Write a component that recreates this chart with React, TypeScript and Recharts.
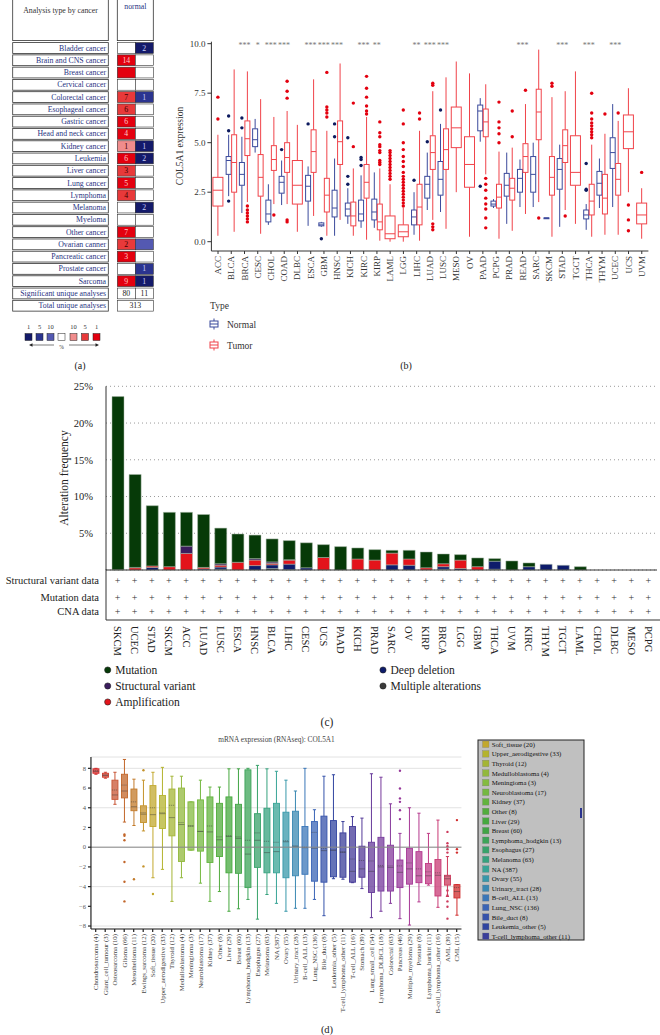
import React from 'react';
import { BarChart, Bar, XAxis, YAxis, CartesianGrid, ReferenceLine } from 'recharts';

const SERIF = '"Liberation Serif", "DejaVu Serif", serif';

// ---------- (a) Oncomine summary ----------
const oncoCancers = [
  'Bladder cancer', 'Brain and CNS cancer', 'Breast cancer', 'Cervical cancer', 'Colorectal cancer',
  'Esophageal cancer', 'Gastric cancer', 'Head and neck cancer', 'Kidney cancer', 'Leukemia',
  'Liver cancer', 'Lung cancer', 'Lymphoma', 'Melanoma', 'Myeloma', 'Other cancer',
  'Ovarian canner', 'Pancreatic cancer', 'Prostate cancer', 'Sarcoma',
];
// number of analyses (null = no cell, '' = coloured cell without number)
const oncoOver = [null, 14, '', null, 7, 6, 6, 4, 1, 6, 3, 5, 4, null, null, 7, 2, 3, null, 9];
const oncoOverRank = [0, 1, 1, 0, 5, 5, 1, 1, 10, 1, 5, 1, 5, 0, 0, 1, 5, 1, 0, 1];
const oncoUnder = [2, null, null, null, 1, null, null, null, 1, 2, null, null, null, 2, null, null, '', null, 1, 1];
const oncoUnderRank = [1, 0, 0, 0, 5, 0, 0, 0, 1, 1, 0, 0, 0, 1, 0, 0, 10, 0, 5, 1];
const oncoSignificant = [80, 11];
const oncoTotal = 313;
const oncoLegendRanks = [1, 5, 10];

// ---------- (b) COL5A1 expression, normal vs tumor ----------
const bCancers = ['ACC', 'BLCA', 'BRCA', 'CESC', 'CHOL', 'COAD', 'DLBC', 'ESCA', 'GBM', 'HNSC', 'KICH', 'KIRC',
  'KIRP', 'LAML', 'LGG', 'LIHC', 'LUAD', 'LUSC', 'MESO', 'OV', 'PAAD', 'PCPG', 'PRAD', 'READ', 'SARC', 'SKCM',
  'STAD', 'TGCT', 'THCA', 'THYM', 'UCEC', 'UCS', 'UVM'];
// [low whisker, q1, median, q3, high whisker]
const bTumor = [
  [0.3, 1.8, 2.6, 3.25, 5.4], [0.5, 2.5, 4.0, 5.4, 8.7], [2.0, 4.35, 5.2, 6.1, 8.6], [0.4, 2.3, 3.25, 4.4, 7.2],
  [1.9, 3.6, 4.15, 4.85, 6.3], [1.9, 3.5, 4.25, 5.0, 6.6], [0.5, 1.9, 2.85, 4.1, 5.9], [1.3, 3.5, 4.55, 5.65, 8.2],
  [0.3, 1.5, 2.35, 3.2, 5.6], [1.1, 3.9, 5.05, 6.1, 9.0], [0.3, 0.8, 1.3, 2.0, 3.7], [0.1, 2.2, 3.0, 3.9, 6.3],
  [0.05, 0.6, 1.0, 1.9, 3.7], [0.0, 0.15, 0.4, 1.3, 2.9], [0.0, 0.25, 0.5, 0.85, 1.7], [0.05, 0.85, 1.75, 2.9, 5.6],
  [1.1, 3.65, 4.5, 5.35, 7.6], [0.65, 3.65, 4.65, 5.7, 8.3], [2.5, 4.75, 5.75, 6.8, 9.1], [0.25, 2.75, 3.9, 5.3, 8.5],
  [3.4, 5.3, 6.05, 6.7, 7.95], [0.15, 1.7, 2.25, 2.9, 4.55], [0.55, 2.1, 2.7, 3.2, 4.75], [1.4, 3.5, 4.3, 4.95, 6.95],
  [2.0, 5.15, 6.55, 7.7, 9.7], [0.25, 2.35, 3.25, 4.3, 7.3], [1.6, 4.0, 4.85, 5.65, 7.6], [0.9, 2.85, 3.5, 5.35, 8.6],
  [0.25, 1.35, 2.05, 2.9, 4.9], [0.35, 1.4, 2.2, 3.4, 5.45], [0.35, 2.35, 3.15, 3.95, 6.1], [2.5, 4.7, 5.55, 6.4, 7.75],
  [0.15, 0.9, 1.35, 1.95, 2.7],
];
const bTumorOut = [
  [6.2, 7.3], [], [1.0, 1.15, 1.3, 1.45, 1.6, 1.8], [], [1.35], [1.0, 1.1, 7.25, 7.6, 8.1], [], [],
  [6.3, 6.5, 6.65, 6.8, 8.55], [], [4.8, 7.0], [6.45, 6.6, 6.85, 7.3, 7.75, 8.35],
  [3.9, 4.0, 4.1, 4.5, 4.6, 4.8, 4.9, 5.3, 5.5, 6.05],
  [3.15, 3.3, 3.45, 3.6, 3.75, 3.9, 4.05, 4.2, 4.35, 4.5, 4.6],
  [1.8, 1.95, 2.1, 2.25, 2.4, 2.55, 2.7, 2.85, 3.0, 3.15, 3.3, 3.5, 3.8, 4.05, 4.3, 4.65, 5.0, 5.95, 6.65],
  [6.2, 6.5], [0.6, 0.75, 0.9, 7.9, 8.0], [], [], [], [0.7, 1.2, 1.65, 1.9, 2.2, 2.6, 2.9, 3.2],
  [5.0, 5.45, 5.75, 6.05, 7.05], [5.3, 6.6], [7.65], [1.2], [7.85, 8.0], [1.3], [],
  [5.25, 5.4, 5.55, 5.7, 5.85, 6.0, 6.2, 6.5, 7.5], [6.45], [6.5], [0.55, 1.1, 1.85], [3.5],
];
const bNormal = [
  null, [2.3, 3.4, 4.1, 4.3, 5.4], [1.45, 2.85, 3.4, 4.0, 5.3], [4.5, 4.8, 5.15, 5.7, 6.2], [0.85, 1.0, 1.4, 2.1, 2.9],
  [1.85, 2.45, 3.0, 3.3, 4.1], null, [0.8, 2.05, 2.8, 3.35, 3.8], [0.75, 0.8, 0.85, 0.95, 1.0], [0.3, 1.25, 1.7, 2.6, 4.2],
  [0.9, 1.3, 1.65, 1.95, 2.7], [0.7, 1.05, 1.4, 2.1, 3.35], [0.7, 1.1, 1.5, 2.15, 3.5], null, null,
  [0.35, 0.85, 1.25, 1.6, 2.5], [1.6, 2.2, 2.9, 3.3, 4.5], [1.5, 2.35, 3.15, 4.05, 5.95], null, null,
  [5.05, 5.6, 6.6, 6.9, 7.25], [1.7, 1.8, 1.9, 2.05, 2.15], [0.9, 2.3, 2.85, 3.45, 4.5], [1.75, 2.5, 3.2, 3.65, 4.15],
  [1.75, 2.5, 3.4, 4.3, 5.0], [1.2, 1.2, 1.2, 1.2, 1.2], [0.75, 2.65, 3.65, 4.2, 4.9], null,
  [0.6, 1.15, 1.35, 1.6, 1.9], [1.7, 2.35, 2.95, 3.55, 4.2], [1.75, 3.7, 4.5, 5.25, 6.95], null, null,
];
const bNormalOut = [
  [], [2.05, 5.6, 6.35], [5.75, 6.25], [], [], [4.65], [], [5.95], [0.15], [5.3, 5.95], [2.9, 3.3, 5.25],
  [3.85, 4.15, 4.25], [], [], [], [3.1], [5.05], [6.65], [], [], [2.8], [], [], [], [], [], [], [],
  [2.6, 2.65, 3.95], [], [], [], [],
];
const bSignif = ['', '', '***', '*', '***', '***', '', '***', '***', '***', '', '***', '**', '', '', '**', '***',
  '***', '', '', '', '', '', '***', '', '', '***', '', '***', '', '***', '', ''];
const bTicks = [0, 2.5, 5, 7.5, 10];

// ---------- (c) alteration frequency ----------
const altCancers = ['SKCM', 'UCEC', 'STAD', 'SKCM', 'ACC', 'LUAD', 'LUSC', 'ESCA', 'HNSC', 'BLCA', 'LIHC', 'CESC',
  'UCS', 'PAAD', 'KICH', 'PRAD', 'SARC', 'OV', 'KIRP', 'BRCA', 'LGG', 'GBM', 'THCA', 'UVM', 'KIRC', 'THYM', 'TGCT',
  'LAML', 'CHOL', 'DLBC', 'MESO', 'PCPG'];
const altMultiple = [0, 0, 0, 0, 0, 0, 0.1, 0, 0, 0.2, 0.05, 0, 0, 0, 0, 0, 0, 0, 0, 0.1, 0, 0, 0.1, 0, 0, 0, 0, 0, 0, 0, 0, 0];
const altDeletion = [0, 0, 0.35, 0, 0, 0.15, 0.3, 0, 0.6, 0.5, 0.75, 0.3, 0, 0, 0, 0, 0.7, 0.65, 0, 0.35, 0.2, 0, 1.1, 0,
  0.45, 0.77, 0.64, 0, 0, 0, 0, 0];
const altAmplification = [0.05, 0.3, 0.2, 0.45, 2.25, 0.2, 0.25, 1.05, 0.75, 0.2, 0.55, 0, 1.7, 0, 1.5, 1.35, 1.6, 0.85,
  0.3, 0.4, 1.15, 0.45, 0, 0, 0, 0, 0, 0, 0, 0, 0, 0];
const altStructural = [0, 0.05, 0, 0, 1.0, 0, 0.2, 0, 0.2, 0.2, 0.05, 0, 0, 0, 0, 0, 0, 0, 0, 0, 0, 0, 0, 0, 0, 0, 0, 0,
  0, 0, 0, 0];
const altMutation = [23.55, 12.65, 8.2, 7.4, 4.6, 7.2, 4.85, 3.85, 3.2, 3.13, 2.6, 3.4, 1.75, 3.18, 1.5, 1.42, 0.38, 1.18,
  2.15, 1.33, 0.74, 1.19, 0.35, 1.23, 0.51, 0, 0, 0.45, 0, 0, 0, 0];
const altTicks = [5, 10, 15, 20, 25];
const altRowLabels = ['Structural variant data', 'Mutation data', 'CNA data'];

// ---------- (d) CCLE mRNA expression ----------
const cellLines = ['Chondrosarcoma (4)', 'Giant_cell_tumour (3)', 'Osteosarcoma (10)', 'Glioma (66)', 'Mesothelioma (11)',
  'Ewings_sarcoma (12)', 'Soft_tissue (20)', 'Upper_aerodigestive (33)', 'Thyroid (12)', 'Medulloblastoma (4)',
  'Meningioma (3)', 'Neuroblastoma (17)', 'Kidney (37)', 'Other (8)', 'Liver (29)', 'Breast (60)',
  'Lymphoma_hodgkin (13)', 'Esophagus (27)', 'Melanoma (63)', 'NA (387)', 'Ovary (55)', 'Urinary_tract (28)',
  'B-cell_ALL (13)', 'Lung_NSC (136)', 'Bile_duct (8)', 'Leukemia_other (5)', 'T-cell_lymphoma_other (11)',
  'T-cell_ALL (16)', 'Stomach (39)', 'Lung_small_cell (54)', 'Lymphoma_DLBCL (18)', 'Colorectal (63)',
  'Pancreas (46)', 'Multiple_myeloma (29)', 'Prostate (8)', 'Lymphoma_burkitt (11)', 'B-cell_lymphoma_other (16)',
  'AML (39)', 'CML (15)'];
// [low whisker, q1, median, mean, q3, high whisker]
const cellStats = [
  [7.4, 7.5, 7.7, 7.75, 7.95, 8.0], [7.0, 7.1, 7.3, 7.3, 7.5, 7.6], [4.35, 4.85, 5.3, 5.8, 6.8, 7.6],
  [2.55, 5.0, 5.7, 6.3, 7.4, 8.9], [2.2, 3.7, 4.1, 4.6, 5.9, 6.9], [1.65, 2.5, 3.35, 3.5, 4.2, 6.8],
  [-3.1, 2.1, 3.3, 4.0, 6.25, 7.6], [-2.25, 1.9, 3.4, 3.5, 5.25, 8.1], [-5.5, 1.15, 3.0, 4.25, 5.9, 7.2],
  [-3.1, -1.45, 2.3, 2.5, 6.0, 7.2], [-0.3, -0.3, 2.15, 2.15, 4.6, 4.6], [-3.65, -0.4, 1.6, 1.6, 4.8, 6.8],
  [-5.5, -1.55, 1.55, 2.15, 5.1, 6.1], [-4.5, -0.95, 0.75, 1.05, 4.45, 6.1], [-6.5, -2.6, 1.1, 1.15, 5.1, 7.95],
  [-6.25, -2.65, 0.9, 1.05, 4.35, 7.95], [-5.3, -4.1, -0.7, 0.7, 7.85, 8.0], [-7.3, -2.05, 0.7, 1.45, 3.4, 8.3],
  [-4.8, -2.6, -0.55, 0.6, 3.95, 7.95], [-5.7, -2.6, -0.45, 0.5, 4.45, 7.7], [-6.5, -3.1, 0.55, 0.65, 3.55, 6.8],
  [-6.2, -2.9, 0.05, 0.15, 3.65, 5.7], [-6.2, -2.75, -0.05, 0.0, 2.1, 8.0], [-5.3, -3.45, -0.1, 1.5, 2.6, 3.8],
  [-6.95, -3.55, -0.35, -0.15, 3.15, 7.2], [-3.2, -3.0, -0.3, -0.3, 2.7, 7.35], [-3.25, -3.05, -0.5, -0.5, 1.45, 2.6],
  [-3.6, -3.55, -2.45, -1.2, 2.1, 3.1], [-4.2, -3.05, -2.2, -1.35, 0.1, 2.95], [-7.15, -4.6, -2.45, -1.4, 0.5, 7.45],
  [-6.5, -4.45, -2.0, -1.85, 1.0, 7.1], [-5.7, -4.45, -2.05, -1.9, 0.2, 4.4], [-7.25, -4.1, -2.55, -1.9, -1.3, 1.4],
  [-7.9, -3.75, -2.2, -1.6, -0.12, 4.0], [-5.55, -3.6, -2.9, -2.2, -0.45, 3.45], [-3.85, -3.7, -2.9, -2.5, -1.65, 1.4],
  [-6.1, -4.95, -2.85, -2.6, -1.25, 2.75], [-5.0, -3.85, -3.2, -2.95, -2.85, -0.95], [-6.9, -5.15, -4.5, -4.1, -3.8, -3.8],
];
const cellOutliers = [
  [], [], [], [1.3, 1.15, 0.7, -1.5, -3.5, -5.5], [-3.25], [7.8, -1.95], [-4.75], [], [], [], [], [], [], [], [], [],
  [], [], [], [], [], [], [], [], [], [], [], [], [], [], [], [], [7.75, 5.95, 4.95, 4.6, 3.75, 2.85], [], [], [], [],
  [1.55, 0.4, 0.1, -0.2, -0.55, -4.4, -4.9, -5.5, -6.05, -7.25], [2.75, -0.2, -0.55],
];
const cellTicks = [-8, -6, -4, -2, 0, 2, 4, 6, 8];

// ---------- styles ----------
const overColors: any = { 1: '#e3000f', 5: '#e8393a', 10: '#f08c8c' };
const underColors: any = { 1: '#141a6a', 5: '#2b348f', 10: '#5459b2' };
const altColors = { multiple: '#3a3a3a', deletion: '#0e1c6b', amplification: '#e3131b', structural: '#3b1d5e', mutation: '#063a08' };
const cellColors = ['#d42a2a', '#cf3f30', '#c85535', '#c2662a', '#c27a2a', '#c4922a', '#c2a82e', '#b4b32e', '#a4b535',
  '#92b83c', '#84bb40', '#74b840', '#62b33e', '#52ac3c', '#46a83e', '#40a445', '#3ca458', '#38a26a', '#36a27e',
  '#38a496', '#3898aa', '#3a88b2', '#3a76b8', '#3a64b6', '#3552aa', '#3044a0', '#3a3e9a', '#443a98', '#543a98',
  '#663a9a', '#763a9c', '#863a9c', '#96389a', '#a63896', '#b4388e', '#c03a84', '#c83a74', '#cc3a5c', '#d02c2c'];

const B_LO = -0.47, B_HI = 10.1;
const D_LO = -8.3, D_HI = 9.15;

const oncoRows = [
  ...oncoCancers.map((name, i) => ({ name, kind: 'cancer', over: oncoOver[i], overRank: oncoOverRank[i], under: oncoUnder[i], underRank: oncoUnderRank[i], one: 1 })),
  { name: 'Significant unique analyses', kind: 'sig', one: 1 },
  { name: 'Total unique analyses', kind: 'total', one: 1 },
];

const bRows = bCancers.map((name, i) => ({
  name, span: [B_LO, B_HI], tumor: bTumor[i], tumorOut: bTumorOut[i], normal: bNormal[i], normalOut: bNormalOut[i], sig: bSignif[i],
}));

const altRows = altCancers.map((name, i) => ({
  key: i, name, multiple: altMultiple[i], deletion: altDeletion[i], amplification: altAmplification[i],
  structural: altStructural[i], mutation: altMutation[i],
}));

const cellRows = cellLines.map((name, i) => ({
  name, span: [D_LO, D_HI], stats: cellStats[i], out: cellOutliers[i], color: cellColors[i],
}));

function OncoRow(props: any) {
  const { x, y, height, payload: r } = props;
  const top = y + 0.6, h = height - 1.2;
  const cx0 = x + 105.3, cw = 18;
  const label = (
    <g>
      <rect x={x + 0.7} y={top} width={95.6} height={h} fill="#fff" stroke="#333" strokeWidth={0.8} />
      <text x={x + 94} y={top + h / 2} textAnchor="end" dominantBaseline="central" fontSize={7.8} fill="#283382" fontFamily={SERIF}>{r.name}</text>
    </g>
  );
  const cell = (k: number, val: any, fill: string, txt: string, w = cw) => (
    <g key={k}>
      <rect x={cx0 + k * cw} y={top} width={w} height={h} fill={fill} stroke="#333" strokeWidth={0.6} />
      {val !== null && val !== '' && (
        <text x={cx0 + k * cw + w / 2} y={top + h / 2} textAnchor="middle" dominantBaseline="central" fontSize={7.8} fill={txt} fontFamily={SERIF}>{val}</text>
      )}
    </g>
  );
  if (r.kind === 'sig') {
    return <g>{label}{cell(0, oncoSignificant[0], '#fff', '#222')}{cell(1, oncoSignificant[1], '#fff', '#222')}</g>;
  }
  if (r.kind === 'total') {
    return <g>{label}{cell(0, oncoTotal, '#fff', '#222', cw * 2)}</g>;
  }
  return (
    <g>
      {label}
      {cell(0, r.over, r.over === null ? '#fff' : overColors[r.overRank], r.overRank === 1 ? '#ffc9c9' : '#3d0000')}
      {cell(1, r.under, r.under === null ? '#fff' : underColors[r.underRank], '#c9cdf5')}
    </g>
  );
}

function drawBox(key: string, s: number[], out: number[], l: number, r: number, stroke: string, dot: string, py: (v: number) => number) {
  const m = (l + r) / 2;
  return (
    <g key={key}>
      <line x1={m} x2={m} y1={py(s[4])} y2={py(s[3])} stroke={stroke} strokeWidth={1} />
      <line x1={m} x2={m} y1={py(s[1])} y2={py(s[0])} stroke={stroke} strokeWidth={1} />
      <rect x={l} y={py(s[3])} width={r - l} height={Math.max(py(s[1]) - py(s[3]), 0.8)} fill="#fff" stroke={stroke} strokeWidth={1} />
      <line x1={l} x2={r} y1={py(s[2])} y2={py(s[2])} stroke={stroke} strokeWidth={1} />
      {out.map((v, i) => <circle key={i} cx={m} cy={py(v)} r={1.7} fill={dot} />)}
    </g>
  );
}

function ExprShape(props: any) {
  const { x, y, width, height, payload } = props;
  const top = Math.min(y, y + height), h = Math.abs(height);
  const py = (v: number) => top + ((B_HI - v) / (B_HI - B_LO)) * h;
  const cx = x + width / 2;
  const paired = !!payload.normal;
  return (
    <g>
      {paired && drawBox('n', payload.normal, payload.normalOut, cx - 5, cx, '#3b4a9c', '#0d1a5e', py)}
      {drawBox('t', payload.tumor, payload.tumorOut, paired ? cx + 0.5 : cx - 5, paired ? cx + 5.5 : cx + 5, '#f0434a', '#e3000f', py)}
      {payload.sig && (
        <text x={cx} y={py(10) + 4.5} textAnchor="middle" fontSize={8} fill="#777" fontFamily={SERIF}>{payload.sig}</text>
      )}
    </g>
  );
}

function CellLineShape(props: any) {
  const { x, y, width, height, payload } = props;
  const top = Math.min(y, y + height), h = Math.abs(height);
  const py = (v: number) => top + ((D_HI - v) / (D_HI - D_LO)) * h;
  const cx = x + width / 2;
  const s = payload.stats;
  const c = payload.color;
  const hw = 3, cap = 1.6;
  return (
    <g>
      <line x1={cx} x2={cx} y1={py(s[5])} y2={py(s[4])} stroke={c} strokeWidth={1} />
      <line x1={cx} x2={cx} y1={py(s[1])} y2={py(s[0])} stroke={c} strokeWidth={1} />
      <line x1={cx - cap} x2={cx + cap} y1={py(s[5])} y2={py(s[5])} stroke={c} strokeWidth={1} />
      <line x1={cx - cap} x2={cx + cap} y1={py(s[0])} y2={py(s[0])} stroke={c} strokeWidth={1} />
      <rect x={cx - hw} y={py(s[4])} width={hw * 2} height={Math.max(py(s[1]) - py(s[4]), 0.8)} fill={c} fillOpacity={0.75} stroke={c} strokeWidth={0.9} />
      <line x1={cx - hw} x2={cx + hw} y1={py(s[2])} y2={py(s[2])} stroke="#333" strokeOpacity={0.55} strokeWidth={0.8} />
      <line x1={cx - hw} x2={cx + hw} y1={py(s[3])} y2={py(s[3])} stroke="#333" strokeOpacity={0.55} strokeWidth={0.8} strokeDasharray="1.2 0.8" />
      {payload.out.map((v: number, i: number) => <circle key={i} cx={cx} cy={py(v)} r={1.2} fill={c} />)}
    </g>
  );
}

const RotTick = (p: any) => (
  <text x={p.x} y={p.y} transform={`rotate(-90, ${p.x}, ${p.y})`} textAnchor="end" dominantBaseline="central"
    fontSize={p.size} fill={p.fill} fontFamily={SERIF}>{p.payload.value}</text>
);

function PlusTick(props: any) {
  const { x, y, payload } = props;
  const ly = y + 56;
  return (
    <g>
      {[10.3, 27, 41.3].map((dy, k) => (
        <text key={k} x={x} y={y + dy} textAnchor="middle" dominantBaseline="central" fontSize={10} fill="#333" fontFamily={SERIF}>+</text>
      ))}
      <text x={x} y={ly} transform={`rotate(90, ${x}, ${ly})`} textAnchor="start" dominantBaseline="central" fontSize={10.5} fill="#222" fontFamily={SERIF}>
        {altCancers[Number(payload.value)]}
      </text>
    </g>
  );
}

const txt = (x: number, y: number, s: string, size: number, extra: any = {}) => (
  <text x={x} y={y} fontSize={size} fontFamily={SERIF} fill="#222" {...extra}>{s}</text>
);

export default function App() {
  const altLegend = [
    { label: 'Mutation', color: altColors.mutation, x: 107.7, y: 670 },
    { label: 'Structural variant', color: altColors.structural, x: 107.7, y: 686 },
    { label: 'Amplification', color: altColors.amplification, x: 107.7, y: 702 },
    { label: 'Deep deletion', color: altColors.deletion, x: 383, y: 670 },
    { label: 'Multiple alterations', color: altColors.multiple, x: 383, y: 686 },
  ];
  const legendItems = cellLines.slice(6, 27);
  const legendColors = cellColors.slice(6, 27);
  const overLegend = [...oncoLegendRanks].reverse();

  return (
    <div style={{ position: 'absolute', left: 0, top: 0, width: 660, height: 1035, background: '#fff', fontFamily: SERIF, overflow: 'hidden' }}>
      {/* (a) */}
      <div style={{ position: 'absolute', left: 12, top: 41.7 }}>
        <BarChart width={142} height={270} data={oncoRows} layout="vertical" margin={{ top: 0, right: 0, bottom: 0, left: 0 }} barCategoryGap={0}>
          <XAxis type="number" domain={[0, 1]} hide />
          <YAxis type="category" dataKey="name" hide />
          <Bar dataKey="one" shape={OncoRow} isAnimationActive={false} />
        </BarChart>
      </div>

      {/* (b) */}
      <div style={{ position: 'absolute', left: 170, top: 0 }}>
        <BarChart width={490} height={300} data={bRows} margin={{ top: 41.7, right: 11.6, bottom: 0, left: 0 }} barCategoryGap={0}>
          <XAxis dataKey="name" interval={0} height={49} tickSize={3} tickMargin={2} stroke="#333"
            tick={(p: any) => <RotTick {...p} size={9} fill="#333" />} />
          <YAxis type="number" domain={[B_LO, B_HI]} ticks={bTicks} allowDataOverflow width={41.4} tickSize={4} stroke="#333"
            tickFormatter={(v: number) => v.toFixed(1)} tick={{ fontSize: 9, fill: '#333', fontFamily: SERIF }} />
          <Bar dataKey="span" shape={ExprShape} isAnimationActive={false} />
        </BarChart>
      </div>

      {/* (c) */}
      <div style={{ position: 'absolute', left: 0, top: 370 }}>
        <BarChart width={660} height={300} data={altRows} margin={{ top: 16.3, right: 3, bottom: 0, left: 0 }}>
          <CartesianGrid vertical={false} stroke="#9a9a9a" strokeDasharray="1 3" />
          <XAxis dataKey="key" interval={0} height={100} tickSize={0} tickMargin={0} axisLine={false} tickLine={false}
            padding={{ left: 3, right: 0 }} tick={(p: any) => <PlusTick {...p} />} />
          <YAxis type="number" domain={[0, 25]} ticks={altTicks} width={106} tickLine={false} tickMargin={7} stroke="#333"
            tickFormatter={(v: number) => `${v}%`} tick={{ fontSize: 10.5, fill: '#222', fontFamily: SERIF }} />
          <ReferenceLine y={0} stroke="#333" />
          <Bar dataKey="multiple" stackId="a" fill={altColors.multiple} stroke="#a9b9a9" strokeWidth={0.5} barSize={12} isAnimationActive={false} />
          <Bar dataKey="deletion" stackId="a" fill={altColors.deletion} stroke="#a9b9a9" strokeWidth={0.5} barSize={12} isAnimationActive={false} />
          <Bar dataKey="amplification" stackId="a" fill={altColors.amplification} stroke="#a9b9a9" strokeWidth={0.5} barSize={12} isAnimationActive={false} />
          <Bar dataKey="structural" stackId="a" fill={altColors.structural} stroke="#a9b9a9" strokeWidth={0.5} barSize={12} isAnimationActive={false} />
          <Bar dataKey="mutation" stackId="a" fill={altColors.mutation} stroke="#a9b9a9" strokeWidth={0.5} barSize={12} isAnimationActive={false} />
        </BarChart>
      </div>

      {/* (d) */}
      <div style={{ position: 'absolute', left: 0, top: 745 }}>
        <BarChart width={470} height={280} data={cellRows} margin={{ top: 12, right: 8.55, bottom: 0, left: 0 }} barCategoryGap={0}>
          <CartesianGrid vertical={false} stroke="#e2e2e2" />
          <XAxis dataKey="name" interval={0} height={96} tickSize={3} tickMargin={2} stroke="#222" strokeWidth={1.2}
            tick={(p: any) => <RotTick {...p} size={6.8} fill="#444" />} />
          <YAxis type="number" domain={[D_LO, D_HI]} ticks={cellTicks} allowDataOverflow width={90.95} tickSize={3} stroke="#222" strokeWidth={1.2}
            tickFormatter={(v: number) => String(v).replace('-', '\u2212')} tick={{ fontSize: 6.5, fill: '#555', fontFamily: SERIF }} />
          <ReferenceLine y={0} stroke="#8a8a8a" strokeWidth={1} />
          <Bar dataKey="span" shape={CellLineShape} isAnimationActive={false} />
        </BarChart>
      </div>

      <svg width={660} height={1035} style={{ position: 'absolute', left: 0, top: 0, pointerEvents: 'none' }}>
        {/* (a) header and legend */}
        <rect x={12.7} y={-1} width={95.6} height={41.6} fill="#fff" stroke="#333" strokeWidth={0.8} />
        {txt(60.5, 12.5, 'Analysis type by cancer', 7.8, { textAnchor: 'middle', fill: '#333' })}
        <rect x={117.3} y={-1} width={36} height={41.6} fill="#fff" stroke="#333" strokeWidth={0.8} />
        {txt(135.3, 9, 'normal', 7.8, { textAnchor: 'middle', fill: '#283382' })}
        {oncoLegendRanks.map((r, i) => (
          <g key={`us${i}`}>
            <rect x={25 + i * 11} y={333.5} width={7} height={7} fill={underColors[r]} stroke="#222" strokeWidth={0.5} />
            {txt(28.5 + i * 11, 329, String(r), 6.5, { textAnchor: 'middle', fill: '#333' })}
          </g>
        ))}
        <rect x={58} y={333.5} width={7} height={7} fill="#fff" stroke="#222" strokeWidth={0.5} />
        {overLegend.map((r, i) => (
          <g key={`os${i}`}>
            <rect x={70 + i * 11.5} y={333.5} width={7} height={7} fill={overColors[r]} stroke="#222" strokeWidth={0.5} />
            {txt(73.5 + i * 11.5, 329, String(r), 6.5, { textAnchor: 'middle', fill: '#333' })}
          </g>
        ))}
        <line x1={31} x2={54} y1={345} y2={345} stroke="#222" strokeWidth={0.6} />
        <path d="M29 345 L32.5 343.3 L32.5 346.7 Z" fill="#222" />
        <line x1={69} x2={97} y1={345} y2={345} stroke="#222" strokeWidth={0.6} />
        <path d="M99 345 L95.5 343.3 L95.5 346.7 Z" fill="#222" />
        {txt(61.5, 349, '%', 5.5, { textAnchor: 'middle', fill: '#333' })}
        {txt(80, 369, '(a)', 10, { textAnchor: 'middle' })}

        {/* (b) labels */}
        {txt(180, 146, 'COL5A1 expression', 9.5, { textAnchor: 'middle', transform: 'rotate(-90, 180, 146)', dominantBaseline: 'central', fill: '#333' })}
        {txt(210, 308.5, 'Type', 9.5, { fill: '#333' })}
        <g stroke="#3b4a9c" strokeWidth={1} fill="none">
          <line x1={214} x2={214} y1={318.5} y2={321} />
          <line x1={214} x2={214} y1={327} y2={329.5} />
          <rect x={210} y={321} width={8} height={6} />
          <line x1={210} x2={218} y1={324} y2={324} />
        </g>
        {txt(227, 327.5, 'Normal', 9.5, { fill: '#333' })}
        <g stroke="#f0434a" strokeWidth={1} fill="none">
          <line x1={214} x2={214} y1={339.5} y2={342} />
          <line x1={214} x2={214} y1={348} y2={350.5} />
          <rect x={210} y={342} width={8} height={6} />
          <line x1={210} x2={218} y1={345} y2={345} />
        </g>
        {txt(227, 348.5, 'Tumor', 9.5, { fill: '#333' })}
        {txt(406, 369, '(b)', 10, { textAnchor: 'middle' })}

        {/* (c) table frame, labels and legend */}
        {txt(64, 478, 'Alteration frequency', 11.5, { textAnchor: 'middle', transform: 'rotate(-90, 64, 478)', dominantBaseline: 'central' })}
        <line x1={106} x2={106} y1={569.5} y2={620} stroke="#333" strokeWidth={1} />
        <line x1={106} x2={660} y1={620} y2={620} stroke="#333" strokeWidth={1} />
        {altRowLabels.map((s, i) => (
          <g key={s}>{txt(99, [580.3, 597, 611.3][i], s, 10.5, { textAnchor: 'end', dominantBaseline: 'central' })}</g>
        ))}
        {altLegend.map((d) => (
          <g key={d.label}>
            <circle cx={d.x} cy={d.y} r={3.1} fill={d.color} stroke="#222" strokeWidth={0.6} />
            {txt(d.x + 7.5, d.y, d.label, 11.5, { dominantBaseline: 'central' })}
          </g>
        ))}
        {txt(327, 726, '(c)', 11.5, { textAnchor: 'middle' })}

        {/* (d) title and legend */}
        {txt(276.5, 741.5, 'mRNA expression (RNAseq): COL5A1', 7.3, { textAnchor: 'middle', fill: '#444' })}
        <rect x={478} y={740} width={106} height={200} fill="#c0c0c0" stroke="#222" strokeWidth={1} />
        {legendItems.map((s, i) => (
          <g key={s}>
            <rect x={482.5} y={741} width={6.5} height={6.5} transform={`translate(0, ${i * 9.6})`} fill={legendColors[i]} stroke="#777" strokeWidth={0.3} />
            {txt(491.7, 744.3 + i * 9.6, s, 6.8, { dominantBaseline: 'central', fill: '#111' })}
          </g>
        ))}
        <rect x={580} y={808} width={2} height={10} fill="#2b348f" />
        {txt(327, 1033, '(d)', 10.5, { textAnchor: 'middle' })}
      </svg>
    </div>
  );
}
